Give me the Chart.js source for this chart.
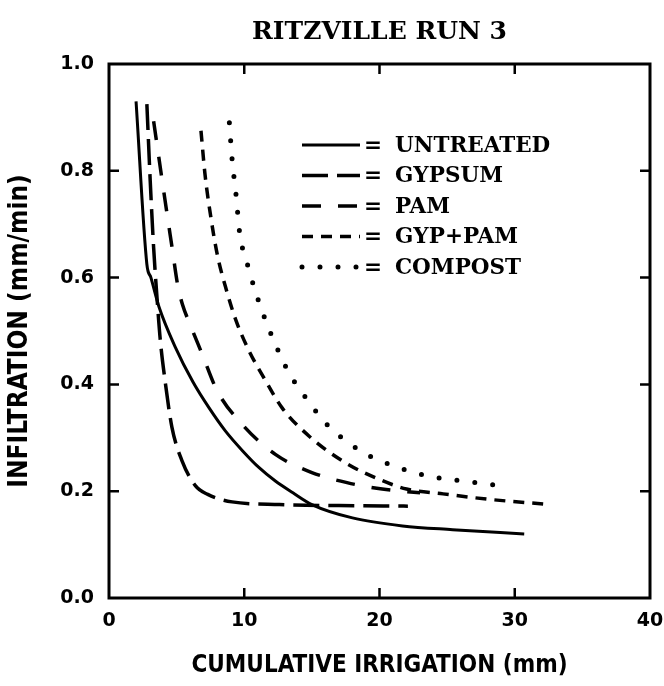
<!DOCTYPE html>
<html>
<head>
<meta charset="utf-8">
<script src="https://cdn.jsdelivr.net/npm/chart.js@4/dist/chart.umd.min.js"></script>
<style>
    body { margin: 0; background: #fff; }
    #wrap { width: 664px; height: 686px; position: relative; }
</style>
</head>
<body>
<div id="wrap"><canvas id="chart"></canvas></div>
<script>
// --- DATA ---
const chartTitle = 'RITZVILLE RUN 3';
const xTitle = 'CUMULATIVE IRRIGATION (mm)';
const yTitle = 'INFILTRATION (mm/min)';
const xTicks = [0, 10, 20, 30, 40];
const yTicks = [0.0, 0.2, 0.4, 0.6, 0.8, 1.0];

const seriesNames = ['UNTREATED', 'GYPSUM', 'PAM', 'GYP+PAM', 'COMPOST'];

const untreatedX = [2.0, 2.8, 3.1, 3.7, 4.9, 6.2, 7.4, 8.6, 9.9, 11.1, 12.3, 13.6, 15.0, 18.0, 21.7, 25.4, 30.7];
const untreatedY = [0.93, 0.625, 0.60, 0.545, 0.47, 0.405, 0.356, 0.313, 0.275, 0.244, 0.219, 0.197, 0.175, 0.150, 0.135, 0.128, 0.120];

const gypsumX = [2.8, 3.05, 3.3, 3.55, 3.8, 4.15, 4.65, 5.4, 6.4, 7.3, 9.1, 12.6, 17.0, 22.1];
const gypsumY = [0.925, 0.78, 0.656, 0.562, 0.481, 0.406, 0.32, 0.257, 0.21, 0.194, 0.18, 0.175, 0.173, 0.172];

const pamX = [3.3, 3.9, 4.3, 4.7, 5.05, 5.45, 5.95, 6.9, 8.0, 9.85, 12.3, 15.0, 17.6, 20.2, 23.0];
const pamY = [0.893, 0.787, 0.718, 0.65, 0.59, 0.548, 0.515, 0.456, 0.388, 0.325, 0.269, 0.235, 0.216, 0.204, 0.197];

const gypPamX = [6.8, 7.1, 7.5, 8.0, 8.7, 9.4, 10.35, 11.6, 12.8, 14.8, 17.5, 20.0, 22.0, 24.7, 28.0, 32.1];
const gypPamY = [0.875, 0.793, 0.718, 0.644, 0.575, 0.519, 0.463, 0.406, 0.356, 0.303, 0.253, 0.222, 0.204, 0.195, 0.185, 0.176];

const compostX = [8.9, 9.1, 9.4, 9.65, 10.3, 11.1, 12.1, 13.3, 14.7, 16.15, 18.7, 21.3, 23.9, 26.5, 29.1];
const compostY = [0.89, 0.822, 0.753, 0.686, 0.619, 0.553, 0.487, 0.422, 0.37, 0.324, 0.274, 0.245, 0.227, 0.218, 0.21];

// --- STYLES ---
const ink = '#000';
const styles = [
    { width: 3, dash: [], cap: 'butt' },
    { width: 3.5, dash: [26, 9], cap: 'butt' },
    { width: 3.5, dash: [19, 17], cap: 'butt' },
    { width: 3.5, dash: [11, 8], cap: 'butt' },
    { width: 5, dash: [0, 18], cap: 'round' }
];

const toPoints = (xs, ys) => xs.map((x, i) => ({ x, y: ys[i] }));
const seriesData = [
    toPoints(untreatedX, untreatedY),
    toPoints(gypsumX, gypsumY),
    toPoints(pamX, pamY),
    toPoints(gypPamX, gypPamY),
    toPoints(compostX, compostY)
];

const datasets = seriesNames.map((name, i) => ({
    label: name,
    data: seriesData[i],
    borderColor: ink,
    borderWidth: styles[i].width,
    borderDash: styles[i].dash,
    borderCapStyle: styles[i].cap,
    pointRadius: 0,
    fill: false,
    cubicInterpolationMode: 'monotone'
}));

// frame, inward ticks, title and legend
const decorPlugin = {
    id: 'decor',
    afterDraw(chart) {
        const { ctx, chartArea: a, scales } = chart;
        ctx.save();
        ctx.strokeStyle = ink;
        ctx.lineWidth = 3;
        ctx.setLineDash([]);
        ctx.strokeRect(a.left, a.top, a.right - a.left, a.bottom - a.top);

        ctx.lineWidth = 2.5;
        const tl = 10;
        xTicks.slice(1, -1).forEach(v => {
            const px = scales.x.getPixelForValue(v);
            ctx.beginPath();
            ctx.moveTo(px, a.bottom); ctx.lineTo(px, a.bottom - tl);
            ctx.moveTo(px, a.top); ctx.lineTo(px, a.top + tl);
            ctx.stroke();
        });
        yTicks.slice(1, -1).forEach(v => {
            const py = scales.y.getPixelForValue(v);
            ctx.beginPath();
            ctx.moveTo(a.left, py); ctx.lineTo(a.left + tl, py);
            ctx.moveTo(a.right, py); ctx.lineTo(a.right - tl, py);
            ctx.stroke();
        });

        // title
        ctx.fillStyle = ink;
        ctx.font = 'bold 25px "DejaVu Serif", serif';
        ctx.textAlign = 'center';
        ctx.textBaseline = 'middle';
        ctx.fillText(chartTitle, (a.left + a.right) / 2, 32);

        // legend
        const lx0 = 302, lx1 = 360, ly0 = 145, step = 30.5;
        seriesNames.forEach((name, i) => {
            const y = ly0 + i * step;
            const s = styles[i];
            ctx.beginPath();
            ctx.lineWidth = s.width;
            ctx.setLineDash(s.dash);
            ctx.lineCap = s.cap;
            ctx.moveTo(lx0, y); ctx.lineTo(lx1, y);
            ctx.stroke();
            ctx.setLineDash([]);
            ctx.lineCap = 'butt';
            ctx.font = 'bold 21.5px "DejaVu Serif", serif';
            ctx.textAlign = 'left';
            ctx.fillText('=', 364, y + 1);
            ctx.fillText(name, 395, y + 1);
        });
        ctx.restore();
    }
};

const tickFont = { family: '"DejaVu Sans", sans-serif', weight: 'bold', size: 19 };
const xTitleFont = { family: '"DejaVu Sans Condensed", "DejaVu Sans", sans-serif', weight: 'bold', size: 24 };
const yTitleFont = { family: '"DejaVu Sans Condensed", "DejaVu Sans", sans-serif', weight: 'bold', size: 26 };

new Chart(document.getElementById('chart'), {
    type: 'line',
    data: { datasets },
    plugins: [decorPlugin],
    options: {
        responsive: true,
        maintainAspectRatio: false,
        animation: false,
        layout: { padding: { top: 64, right: 14, bottom: 0, left: 0 } },
        plugins: {
            legend: { display: false },
            tooltip: { enabled: false },
            title: { display: false }
        },
        scales: {
            x: {
                type: 'linear',
                min: 0,
                max: 40,
                afterFit: (scale) => {
                    scale.height = 88;
                    scale.paddingLeft = 0;
                    scale.paddingRight = 0;
                },
                afterBuildTicks: (scale) => { scale.ticks = xTicks.map(v => ({ value: v })); },
                grid: { display: false, drawTicks: false },
                border: { display: false },
                ticks: { color: ink, font: tickFont, padding: 12, maxRotation: 0 },
                title: { display: true, text: xTitle, color: ink, font: xTitleFont, padding: { top: 0, bottom: 6 } }
            },
            y: {
                type: 'linear',
                min: 0,
                max: 1,
                afterFit: (scale) => { scale.width = 109; },
                afterBuildTicks: (scale) => { scale.ticks = yTicks.map(v => ({ value: v })); },
                grid: { display: false, drawTicks: false },
                border: { display: false },
                ticks: { color: ink, font: tickFont, padding: 15, callback: v => v.toFixed(1) },
                title: { display: true, text: yTitle, color: ink, font: yTitleFont, padding: { top: 5, bottom: 0 } }
            }
        }
    }
});
</script>
</body>
</html>
